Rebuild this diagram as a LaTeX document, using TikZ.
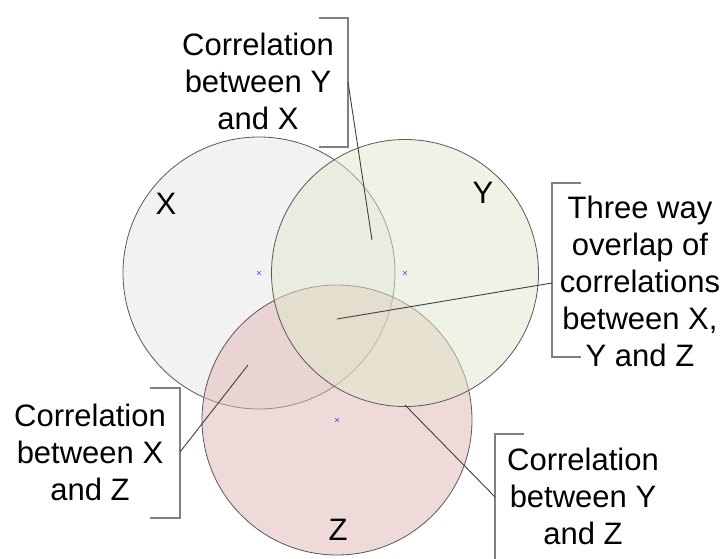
\documentclass[tikz,border=0pt]{standalone}
\usepackage{fontspec}
\setmainfont{Liberation Sans}
\definecolor{xfill}{RGB}{242,242,242}
\definecolor{yfill}{RGB}{225,233,205}
\definecolor{zfill}{RGB}{225,181,181}
\begin{document}
\begin{tikzpicture}[x=1pt,y=-1pt,
  lab/.style={font=\fontsize{31}{37}\selectfont, align=center, inner sep=0pt},
  vlab/.style={font=\fontsize{31}{37}\selectfont, inner sep=0pt},
  circ/.style={circle, draw=black!65, line width=0.8pt, inner sep=0pt, outer sep=0pt},
  brk/.style={draw=black!50, line width=1.1pt},
  conn/.style={draw=black!75, line width=0.9pt},
  ctr/.style={draw=blue!70, line width=0.5pt}]
\useasboundingbox (0,0) rectangle (726,559);
\fill[white] (0,0) rectangle (726,559);
% circles: X bottom, Z middle, Y top
\node[circ, fill=xfill, minimum size=272pt] (cX) at (259,273) {};
\node[circ, fill=zfill, fill opacity=0.5, minimum size=270pt] (cZ) at (337,420) {};
\node[circ, fill=yfill, fill opacity=0.5, minimum size=267pt] (cY) at (405,273) {};
% centre marks
\foreach \c in {cX,cY,cZ}{
  \draw[ctr] (\c.center) +(-2,-2) -- +(2,2) +(-2,2) -- +(2,-2);
}
% circle labels
\node[vlab] (lX) at (166,204) {X};
\node[vlab] (lY) at (483,193) {Y};
\node[vlab] (lZ) at (338,530) {Z};
% text labels
\node[lab] (tYX) at (258,81) {Correlation\\between Y\\and X};
\node[lab] (tXYZ) at (640,281) {Three way\\overlap of\\correlations\\between X,\\Y and Z};
\node[lab] (tXZ) at (90,452) {Correlation\\between X\\and Z};
\node[lab] (tYZ) at (583,496) {Correlation\\between Y\\and Z};
% brackets
\draw[brk] (319,18) -| (348,147) -- (319,147);
\draw[brk] (581,183) -| (552,357) -- (581,357);
\draw[brk] (150,388) -| (180,518) -- (150,518);
\draw[brk] (524,434) -| (495,565);
% connector ends
\coordinate (pYX) at (372,240);
\coordinate (bYX) at (348,82);
\coordinate (pXYZ) at (337,319);
\coordinate (bXYZ) at (552,283);
\coordinate (pXZ) at (248,365);
\coordinate (bXZ) at (180,452);
\coordinate (pYZ) at (405,405);
\coordinate (bYZ) at (495,497);
\draw[conn] (pYX) -- (bYX);
\draw[conn] (pXYZ) -- (bXYZ);
\draw[conn] (pXZ) -- (bXZ);
\draw[conn] (pYZ) -- (bYZ);
\end{tikzpicture}
\end{document}
